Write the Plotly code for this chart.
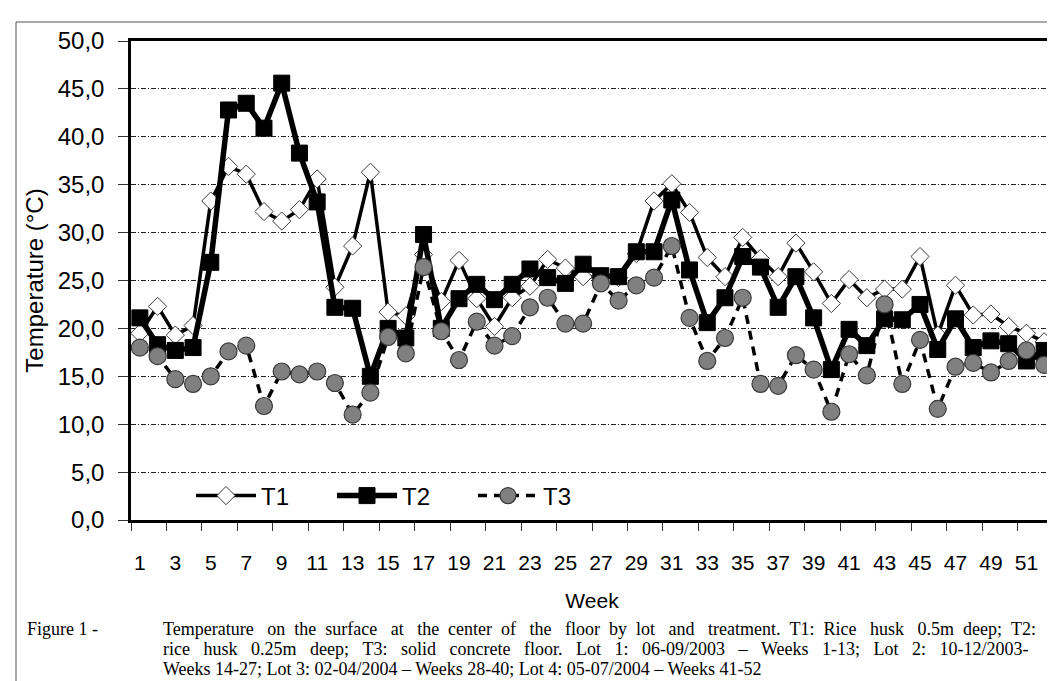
import plotly.graph_objects as go

# ---------------- data ----------------
weeks = list(range(1, 53))
t1 = [19.5, 22.3, 19.3, 20.3, 33.3, 36.9, 36.1, 32.2, 31.2, 32.4,
      35.6, 24.3, 28.6, 36.3, 21.7, 21.3, 27.7, 22.8, 27.1, 23.1,
      20.2, 23.2, 24.4, 27.2, 26.3, 25.4, 25.4, 25.3, 27.8, 33.3,
      35.1, 32.1, 27.4, 25.4, 29.5, 27.3, 25.4, 28.9, 25.9, 22.6,
      25.1, 23.2, 24.1, 24.1, 27.5, 19.3, 24.5, 21.4, 21.5, 20.2,
      19.5, 18.6]
t2 = [21.1, 18.3, 17.7, 18.0, 26.9, 42.8, 43.5, 40.9, 45.6, 38.3,
      33.2, 22.2, 22.1, 15.0, 20.0, 19.0, 29.8, 20.0, 23.1, 24.6,
      23.0, 24.6, 26.2, 25.3, 24.7, 26.7, 25.5, 25.4, 28.0, 28.0,
      33.4, 26.1, 20.6, 23.2, 27.5, 26.4, 22.2, 25.4, 21.1, 15.7,
      19.9, 18.2, 21.0, 20.9, 22.5, 17.8, 21.0, 18.0, 18.7, 18.4,
      16.6, 17.7]
t3 = [18.0, 17.1, 14.7, 14.2, 15.0, 17.6, 18.2, 11.9, 15.5, 15.2,
      15.5, 14.3, 11.0, 13.3, 19.1, 17.4, 26.4, 19.7, 16.7, 20.7,
      18.2, 19.2, 22.2, 23.2, 20.5, 20.5, 24.7, 22.9, 24.5, 25.3,
      28.6, 21.1, 16.6, 19.0, 23.2, 14.2, 14.0, 17.2, 15.7, 11.3,
      17.3, 15.1, 22.5, 14.2, 18.8, 11.6, 16.0, 16.4, 15.4, 16.6,
      17.7, 16.2]
series_names = ["T1", "T2", "T3"]
y_tick_vals = [0, 5, 10, 15, 20, 25, 30, 35, 40, 45, 50]
x_label_weeks = weeks[::2]

caption_label = "Figure 1 -"
caption_lines = [
    "Temperature on the surface at the center of the floor by lot and treatment. T1: Rice husk 0.5m deep; T2:",
    "rice husk 0.25m deep; T3: solid concrete floor. Lot 1: 06-09/2003 \u2013 Weeks 1-13; Lot 2: 10-12/2003-",
    "Weeks 14-27; Lot 3: 02-04/2004 \u2013 Weeks 28-40; Lot 4: 05-07/2004 \u2013 Weeks 41-52",
]

# ---------------- layout geometry ----------------
W, H = 1055, 681
L, R, T, B = 123, 10, 33, 169
PW = W - L - R
PH = H - T - B


def px_x(x):
    return (x - L) / PW


def px_y(y):
    return (H - B - y) / PH


def justify(text, avg_extra):
    """Widen word gaps with non-breaking spaces (emulates justified text)."""
    words = text.split(" ")
    out = words[0]
    for i, w in enumerate(words[1:]):
        n = round((i + 1) * avg_extra) - round(i * avg_extra)
        out += " " + "\u00a0" * n + w
    return out


SANS = "Liberation Sans, Arial, sans-serif"
SERIF = "Liberation Serif, Times New Roman, serif"

fig = go.Figure()

fig.add_trace(go.Scatter(
    x=weeks, y=t1, name=series_names[0], mode="lines+markers",
    line=dict(color="black", width=3.5),
    marker=dict(symbol="diamond", size=14, color="white",
                line=dict(color="#3a3a3a", width=1)),
    legendrank=1,
))
fig.add_trace(go.Scatter(
    x=weeks, y=t2, name=series_names[1], mode="lines+markers",
    line=dict(color="black", width=5.5),
    marker=dict(symbol="square", size=16, color="black",
                line=dict(color="black", width=1)),
    legendrank=2,
))
fig.add_trace(go.Scatter(
    x=weeks, y=t3, name=series_names[2], mode="lines+markers",
    line=dict(color="black", width=3.5, dash="9px,7px"),
    marker=dict(symbol="circle", size=17, color="#808080",
                line=dict(color="#3a3a3a", width=1.2)),
    legendrank=3,
))

cap_texts = [caption_label,
             justify(caption_lines[0], 1.5),
             justify(caption_lines[1], 2.0),
             caption_lines[2]]
cap_x = [17, 153, 153, 153]
cap_y = [621, 621, 641, 661]
annotations = []
for txt, cx, cy in zip(cap_texts, cap_x, cap_y):
    annotations.append(dict(
        text=txt, xref="paper", yref="paper", x=px_x(cx), y=px_y(cy),
        xanchor="left", yanchor="middle", showarrow=False,
        font=dict(family=SERIF, size=18, color="black"),
    ))

minor_vals = [w - 0.5 for w in x_label_weeks] + [weeks[-1] + 0.5]

fig.update_layout(
    width=W, height=H,
    margin=dict(l=L, r=R, t=T, b=B, autoexpand=False),
    paper_bgcolor="white", plot_bgcolor="white",
    separators=", ",
    showlegend=True,
    legend=dict(
        orientation="h", x=px_x(183), y=px_y(488), xanchor="left", yanchor="middle",
        font=dict(family=SANS, size=24, color="black"),
        bgcolor="white", entrywidth=66, entrywidthmode="pixels",
        itemwidth=60, traceorder="normal",
    ),
    annotations=annotations,
    shapes=[dict(
        type="rect", xref="paper", yref="paper",
        x0=px_x(8), x1=px_x(1070), y0=px_y(700), y1=px_y(14),
        line=dict(color="#555555", width=1), fillcolor="rgba(0,0,0,0)",
        layer="below",
    )],
    xaxis=dict(
        range=[0.5, 52.5], tickmode="array", tickvals=x_label_weeks,
        ticktext=[str(w) for w in x_label_weeks], ticks="",
        ticklabelstandoff=22,
        tickfont=dict(family=SANS, size=21, color="black"),
        showgrid=False, zeroline=False,
        showline=True, linecolor="black", linewidth=2.5, mirror=True,
        minor=dict(tickmode="array", tickvals=minor_vals, ticks="outside",
                   ticklen=8, tickwidth=1.3, tickcolor="#333333", showgrid=False),
        title=dict(text="Week", font=dict(family=SANS, size=21, color="black"),
                   standoff=21),
    ),
    yaxis=dict(
        range=[0, 50], tickmode="array", tickvals=y_tick_vals, tickformat=".1f",
        ticks="outside", ticklen=10, tickwidth=1.3, tickcolor="#333333",
        ticklabelstandoff=9,
        tickfont=dict(family=SANS, size=24, color="black"),
        showgrid=True, gridcolor="#222222", gridwidth=1, griddash="5px,2px,1px,2px",
        zeroline=False,
        showline=True, linecolor="black", linewidth=2.5, mirror=True,
        title=dict(text="Temperature (\u00b0C)", font=dict(family=SANS, size=24, color="black"),
                   standoff=8),
    ),
)

fig.write_html("out.html")
